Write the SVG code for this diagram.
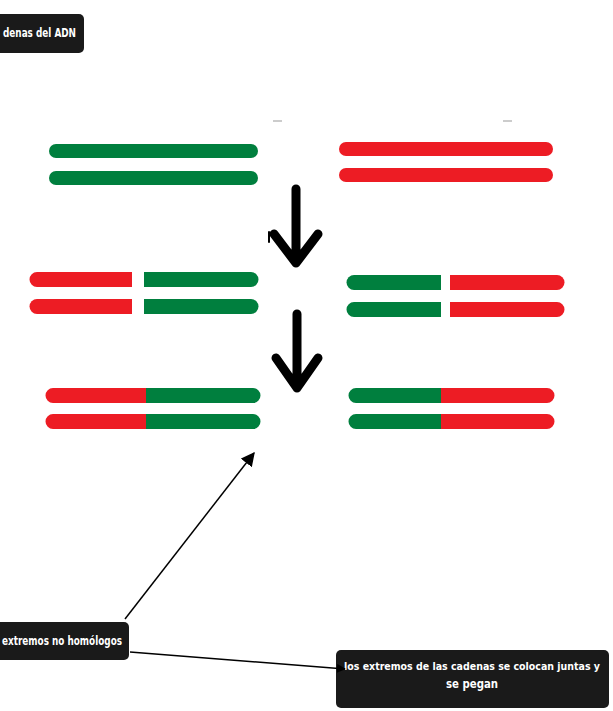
<svg xmlns="http://www.w3.org/2000/svg" width="613" height="711" viewBox="0 0 613 711">
<defs>
<style>
.g{fill:#007F3E}
.r{fill:#ED1C24}
.box{fill:#1a1a1a}
.t{fill:#ffffff;font-family:"Liberation Sans Narrow","DejaVu Sans Condensed","Liberation Sans",sans-serif;font-weight:bold;font-size:12.5px}
.s{font-size:11px}
.big{stroke:#000;stroke-width:9;stroke-linecap:round;stroke-linejoin:round;fill:none}
.conn{stroke:#000;stroke-width:1.5;fill:none}
</style>
<marker id="ah" viewBox="0 0 10 10" refX="9" refY="5" markerWidth="9" markerHeight="9" markerUnits="userSpaceOnUse" orient="auto">
<path d="M0,0 L10,5 L0,10 z" fill="#000"/>
</marker>
<marker id="ah2" viewBox="0 0 10 10" refX="9" refY="5" markerWidth="14" markerHeight="14" markerUnits="userSpaceOnUse" orient="auto">
<path d="M0,0 L10,5 L0,10 z" fill="#000"/>
</marker>
</defs>
<rect width="613" height="711" fill="#fff"/>

<g id="label-top">
<rect class="box" x="-10" y="14" width="94" height="39" rx="5"/>
<text class="t" x="3" y="37" textLength="73" lengthAdjust="spacingAndGlyphs">denas del ADN</text>
</g>

<g id="marks">
<line x1="273" y1="121" x2="282" y2="121" stroke="#bbb" stroke-width="1.5"/>
<line x1="503" y1="121" x2="512" y2="121" stroke="#bbb" stroke-width="1.5"/>
<line x1="269" y1="232" x2="269" y2="242" stroke="#000" stroke-width="2" stroke-linecap="round"/>
</g>

<g id="top-left">
<rect class="g" x="49" y="144" width="209" height="14" rx="7"/>
<rect class="g" x="49" y="171" width="209" height="14" rx="7"/>
</g>
<g id="top-right">
<rect class="r" x="339" y="142" width="214" height="14" rx="7"/>
<rect class="r" x="339" y="168" width="214" height="14" rx="7"/>
</g>

<g id="mid-left">
<path class="r" d="M37,272 H132 V287 H37 A7.5,7.5 0 0 1 37,272 z"/>
<path class="r" d="M37,299 H132 V314 H37 A7.5,7.5 0 0 1 37,299 z"/>
<path class="g" d="M144,272 H251 A7.5,7.5 0 0 1 251,287 H144 z"/>
<path class="g" d="M144,299 H251 A7.5,7.5 0 0 1 251,314 H144 z"/>
</g>
<g id="mid-right">
<path class="g" d="M354,275 H441 V290 H354 A7.5,7.5 0 0 1 354,275 z"/>
<path class="g" d="M354,302 H441 V317 H354 A7.5,7.5 0 0 1 354,302 z"/>
<path class="r" d="M450,275 H557 A7.5,7.5 0 0 1 557,290 H450 z"/>
<path class="r" d="M450,302 H557 A7.5,7.5 0 0 1 557,317 H450 z"/>
</g>

<g id="bottom-left">
<path class="r" d="M53,388 H146 V403 H53 A7.5,7.5 0 0 1 53,388 z"/>
<path class="g" d="M146,388 H253 A7.5,7.5 0 0 1 253,403 H146 z"/>
<path class="r" d="M53,414 H146 V429 H53 A7.5,7.5 0 0 1 53,414 z"/>
<path class="g" d="M146,414 H253 A7.5,7.5 0 0 1 253,429 H146 z"/>
</g>
<g id="bottom-right">
<path class="g" d="M356,388 H441 V403 H356 A7.5,7.5 0 0 1 356,388 z"/>
<path class="r" d="M441,388 H547 A7.5,7.5 0 0 1 547,403 H441 z"/>
<path class="g" d="M356,414 H441 V429 H356 A7.5,7.5 0 0 1 356,414 z"/>
<path class="r" d="M441,414 H547 A7.5,7.5 0 0 1 547,429 H441 z"/>
</g>

<g id="big-arrows">
<path class="big" d="M296,189 V263 M274,234 L296,263 L318,234"/>
<path class="big" d="M297,314 V388 M276,358 L297,388 L318,358"/>
</g>

<g id="label-left">
<rect class="box" x="-10" y="622" width="139" height="38" rx="5"/>
<text class="t" x="2" y="645" textLength="120" lengthAdjust="spacingAndGlyphs">extremos no homólogos</text>
</g>

<g id="label-right">
<rect class="box" x="336" y="650" width="273" height="58" rx="5"/>
<text class="t s" x="344" y="670" textLength="256" lengthAdjust="spacingAndGlyphs">los extremos de las cadenas se colocan juntas y</text>
<text class="t" x="446" y="688" textLength="52" lengthAdjust="spacingAndGlyphs">se pegan</text>
</g>

<g id="connectors">
<line class="conn" x1="125" y1="619" x2="254" y2="453" marker-end="url(#ah2)"/>
<line class="conn" x1="130" y1="652" x2="345" y2="669" marker-end="url(#ah)"/>
</g>
</svg>
